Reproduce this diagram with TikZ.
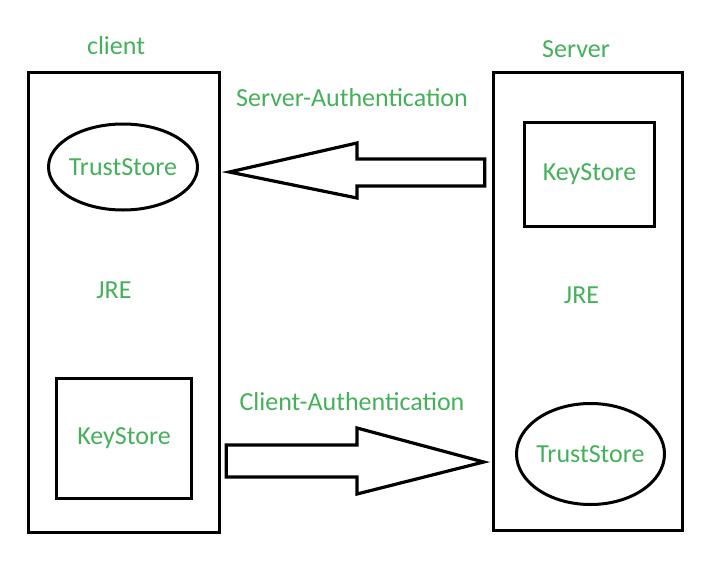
\documentclass[tikz,border=0pt]{standalone}
\usepackage{fontspec}
\setmainfont{Carlito}
\usepackage{tikz}
\usetikzlibrary{
    arrows.meta,
    positioning,
    shapes.geometric,
    calc
}
\usepackage{xcolor}
\definecolor{jregreen}{RGB}{68,176,90}
\newcommand{\lblfont}{\fontsize{26}{31}\selectfont}

\begin{document}
\begin{tikzpicture}[x=1pt, y=-1pt,
    lbl/.style={font=\lblfont, text=jregreen, inner sep=0pt},
    jrebox/.style={draw, line width=3.6pt, minimum width=#1, inner sep=0pt},
    storebox/.style={draw, line width=3.4pt, inner sep=0pt},
    storeoval/.style={draw, ellipse, line width=3pt, inner sep=0pt},
    blockarrow/.style={draw, line width=3.2pt, line join=miter, fill=white}
]
    \useasboundingbox (0,0) rectangle (720,573);

    % The two JRE boxes
    \node[jrebox=191pt, minimum height=460pt] (client) at (124,302.5) {};
    \node[jrebox=189pt, minimum height=458pt] (server) at (588,301.5) {};

    % Titles above the boxes
    \node[lbl] (clientlbl) at (116,46) {client};
    \node[lbl] (serverlbl) at (576,49) {Server};

    % Stores on the client side
    \node[storeoval, minimum width=149pt, minimum height=86pt] (ctrust) at (123,167) {};
    \node[lbl] at (ctrust.center) {TrustStore};
    \node[storebox, minimum width=135pt, minimum height=120pt] (ckey) at (124,438.5) {};
    \node[lbl] at (ckey.center) {KeyStore};
    \node[lbl] (cjre) at (114,290) {JRE};

    % Stores on the server side
    \node[storebox, minimum width=130pt, minimum height=104pt] (skey) at (589.5,174.5) {};
    \node[lbl] at (skey.center) {KeyStore};
    \node[storeoval, minimum width=148pt, minimum height=101pt] (strust) at (590.5,454) {};
    \node[lbl] at (strust.center) {TrustStore};
    \node[lbl] (sjre) at (581.5,295) {JRE};

    % Server-Authentication: big arrow from server to client
    \coordinate (satip) at ($(client.east)+(8,0)$);
    \coordinate (satail) at ($(server.west)+(-7,0)$);
    \draw[blockarrow] (satip |- 0,172) -- (357,143) -- (357,159) -- (satail |- 0,159)
        -- (satail |- 0,186) -- (357,186) -- (357,198) -- cycle;
    \node[lbl] (salbl) at (352,98) {Server-Authentication};

    % Client-Authentication: big arrow from client to server
    \coordinate (catail) at ($(client.east)+(5,0)$);
    \coordinate (catip) at ($(server.west)+(-8,0)$);
    \draw[blockarrow] (catail |- 0,445) -- (357,445) -- (357,428) -- (catip |- 0,462)
        -- (357,494) -- (357,477) -- (catail |- 0,477) -- cycle;
    \node[lbl] (calbl) at (352,402) {Client-Authentication};

\end{tikzpicture}
\end{document}
